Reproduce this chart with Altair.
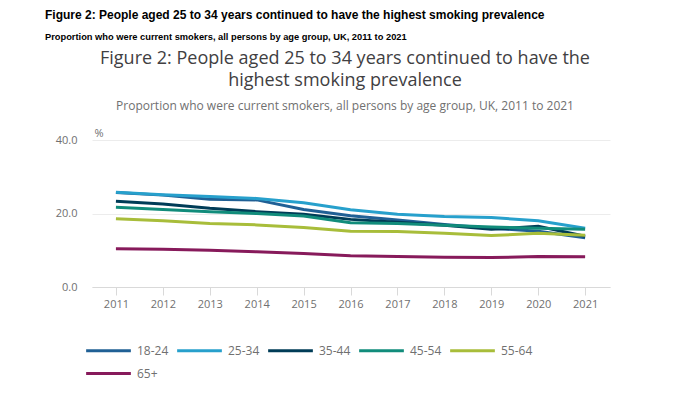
import altair as alt
import pandas as pd

years = [2011, 2012, 2013, 2014, 2015, 2016, 2017, 2018, 2019, 2020, 2021]
age_groups = ["18-24", "25-34", "35-44", "45-54", "55-64", "65+"]
v_18_24 = [25.7, 25.0, 23.9, 23.7, 21.1, 19.4, 18.2, 17.0, 16.0, 15.2, 13.4]
v_25_34 = [25.8, 25.1, 24.6, 24.1, 22.9, 21.0, 19.8, 19.2, 18.9, 18.0, 16.0]
v_35_44 = [23.3, 22.6, 21.4, 20.5, 19.8, 18.4, 17.6, 16.8, 15.7, 16.5, 13.8]
v_45_54 = [21.7, 21.1, 20.5, 20.0, 19.3, 17.5, 17.3, 16.8, 16.3, 16.0, 15.7]
v_55_64 = [18.6, 18.0, 17.3, 16.9, 16.2, 15.2, 15.1, 14.6, 14.0, 14.6, 14.1]
v_65 = [10.4, 10.3, 10.0, 9.6, 9.1, 8.5, 8.3, 8.1, 8.0, 8.3, 8.2]
colors = ["#206095", "#27a0cc", "#003c57", "#118c7b", "#a8bd3a", "#871a5b"]

series = [v_18_24, v_25_34, v_35_44, v_45_54, v_55_64, v_65]
rows = []
for g, vals in zip(age_groups, series):
    for y, v in zip(years, vals):
        rows.append({"year": y, "group": g, "value": v})
df = pd.DataFrame(rows)

header1 = "Figure 2: People aged 25 to 34 years continued to have the highest smoking prevalence"
header2 = "Proportion who were current smokers, all persons by age group, UK, 2011 to 2021"
title1 = "Figure 2: People aged 25 to 34 years continued to have the"
title2 = "highest smoking prevalence"
subtitle = "Proportion who were current smokers, all persons by age group, UK, 2011 to 2021"

W, H = 518, 147

lines = alt.Chart(df).mark_line(strokeWidth=3).encode(
    x=alt.X("year:Q",
            scale=alt.Scale(domain=[2010.49, 2021.53], nice=False, zero=False),
            axis=alt.Axis(values=years, format="d", title=None, grid=False,
                          tickSize=8, tickColor="#d9d9d9", domainColor="#d9d9d9",
                          labelColor="#707070", labelFontSize=11, labelPadding=3,
                          labelFont="Open Sans")),
    y=alt.Y("value:Q",
            scale=alt.Scale(domain=[0, 40], nice=False),
            axis=alt.Axis(values=[0, 20, 40], format=".1f", title="%",
                          titleAngle=0, titleX=2, titleY=-7, titleAlign="left",
                          titleBaseline="middle",
                          titleFontWeight="normal", titleFontSize=11,
                          titleColor="#707070", titleFont="Open Sans",
                          ticks=False, domain=False, gridColor="#ececec",
                          labelColor="#707070", labelFontSize=11, labelPadding=15,
                          labelFont="Open Sans")),
    color=alt.Color("group:N", scale=alt.Scale(domain=age_groups, range=colors),
                    legend=alt.Legend(title=None, orient="none", legendX=9, legendY=203,
                                      direction="horizontal", columns=5,
                                      symbolType="M-4,0H4", symbolSize=125,
                                      symbolStrokeWidth=3, gridAlign="all",
                                      labelFontSize=12, labelColor="#707070",
                                      labelFont="Open Sans", labelOffset=21,
                                      columnPadding=2, rowPadding=9)),
)

def txt(s, x, y, size, weight, font, color, align):
    return alt.Chart(pd.DataFrame({"t": [s]})).mark_text(
        fontSize=size, fontWeight=weight, font=font, color=color,
        align=align, baseline="middle").encode(
        text="t:N", x=alt.value(x), y=alt.value(y))

texts = [
    txt(header1, -47, -125, 12, "bold", "Liberation Sans", "#000000", "left"),
    txt(header2, -47, -103, 9.3, "bold", "Liberation Sans", "#000000", "left"),
    txt(title1, 253, -81, 18, "normal", "Open Sans", "#414042", "center"),
    txt(title2, 253, -59, 18, "normal", "Open Sans", "#414042", "center"),
    txt(subtitle, 253, -34, 12, "normal", "Open Sans", "#707070", "center"),
]

chart = alt.layer(lines, *texts).properties(
    width=W, height=H,
    autosize=alt.AutoSizeParams(type="none"),
    padding={"left": 84, "top": 132, "right": 82, "bottom": 99},
).configure_view(stroke=None)

chart.save("out.html", embed_options={"renderer": "svg", "actions": False})
